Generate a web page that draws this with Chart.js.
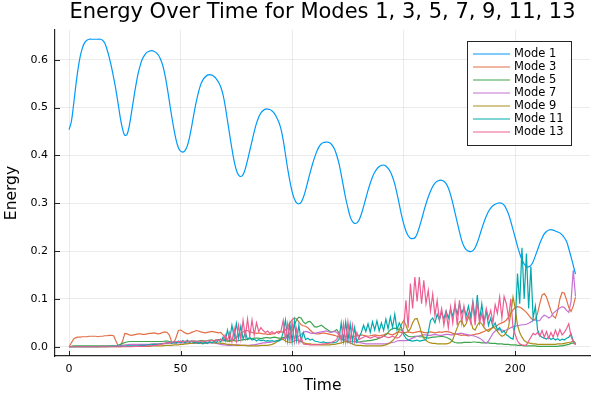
<!DOCTYPE html>
<html>
<head>
<meta charset="utf-8">
<script src="https://cdn.jsdelivr.net/npm/chart.js@4/dist/chart.umd.min.js"></script>
<style>
html,body{margin:0;padding:0;background:#fff;}
canvas{display:block;}
</style>
</head>
<body>
<canvas id="c" width="600" height="400"></canvas>
<script>
const titleText = "Energy Over Time for Modes 1, 3, 5, 7, 9, 11, 13";
const seriesLabels = ["Mode 1","Mode 3","Mode 5","Mode 7","Mode 9","Mode 11","Mode 13"];
const seriesColors = ["#009AFA","#E36F47","#3EA44E","#C371D2","#AC8E18","#00A9AD","#ED5E93"];
const xTicks = [0,50,100,150,200];
const yTicks = [0.0,0.1,0.2,0.3,0.4,0.5,0.6];

const mode1 = [
0.454,0.47,0.505,0.545,0.58,0.607,0.625,0.636,0.641,0.643,
0.643,0.643,0.643,0.643,0.643,0.641,0.635,0.622,0.605,0.585,
0.562,0.537,0.508,0.478,0.455,0.442,0.444,0.462,0.49,0.52,
0.548,0.572,0.59,0.603,0.611,0.616,0.618,0.619,0.618,0.615,
0.61,0.601,0.588,0.568,0.542,0.512,0.482,0.455,0.432,0.416,
0.409,0.407,0.41,0.42,0.438,0.462,0.488,0.512,0.532,0.548,
0.558,0.564,0.568,0.569,0.568,0.565,0.56,0.553,0.543,0.527,
0.503,0.473,0.443,0.414,0.388,0.369,0.359,0.356,0.36,0.372,
0.39,0.41,0.43,0.45,0.467,0.48,0.489,0.494,0.497,0.497,
0.496,0.493,0.488,0.48,0.47,0.455,0.432,0.402,0.372,0.346,
0.324,0.309,0.301,0.299,0.302,0.312,0.327,0.345,0.363,0.38,
0.395,0.408,0.418,0.424,0.427,0.428,0.428,0.426,0.421,0.413,
0.4,0.383,0.36,0.335,0.31,0.29,0.272,0.262,0.258,0.259,
0.265,0.277,0.293,0.31,0.327,0.342,0.355,0.365,0.372,0.377,
0.379,0.38,0.378,0.373,0.366,0.355,0.34,0.32,0.298,0.276,
0.257,0.242,0.232,0.227,0.226,0.228,0.236,0.25,0.266,0.283,
0.299,0.313,0.325,0.335,0.342,0.346,0.348,0.348,0.346,0.341,
0.332,0.318,0.3,0.28,0.26,0.24,0.222,0.21,0.203,0.2,
0.199,0.201,0.207,0.218,0.232,0.247,0.261,0.273,0.283,0.29,
0.295,0.298,0.3,0.301,0.3,0.296,0.288,0.277,0.262,0.245,
0.228,0.21,0.195,0.182,0.173,0.168,0.167,0.17,0.178,0.19,
0.203,0.216,0.227,0.236,0.241,0.244,0.245,0.244,0.242,0.24,
0.238,0.234,0.228,0.22,0.205,0.188,0.17,0.152
];
const mode3 = [
0,0.008,0.016,0.019,0.02,0.02,0.021,0.021,0.021,0.022,
0.022,0.022,0.022,0.021,0.022,0.022,0.023,0.023,0.024,0.024,
0.023,0.012,0.002,0.001,0.012,0.028,0.027,0.025,0.024,0.025,
0.026,0.027,0.027,0.026,0.026,0.027,0.028,0.028,0.029,0.028,
0.027,0.028,0.03,0.031,0.03,0.024,0.01,0.008,0.02,0.034,
0.035,0.032,0.029,0.027,0.028,0.03,0.032,0.034,0.033,0.031,
0.03,0.029,0.03,0.031,0.032,0.031,0.03,0.029,0.03,0.025,
0.018,0.012,0.011,0.013,0.016,0.02,0.024,0.028,0.031,0.034,
0.034,0.032,0.03,0.029,0.028,0.029,0.028,0.027,0.027,0.026,
0.026,0.027,0.028,0.03,0.032,0.031,0.03,0.035,0.042,0.05,
0.056,0.06,0.058,0.052,0.046,0.044,0.043,0.04,0.035,0.031,
0.028,0.027,0.027,0.028,0.029,0.028,0.027,0.026,0.025,0.024,
0.022,0.021,0.022,0.023,0.022,0.021,0.02,0.021,0.022,0.023,
0.024,0.025,0.024,0.023,0.022,0.023,0.024,0.025,0.024,0.023,
0.024,0.025,0.027,0.028,0.026,0.025,0.027,0.03,0.031,0.03,
0.029,0.03,0.031,0.03,0.029,0.03,0.031,0.032,0.031,0.03,
0.029,0.03,0.031,0.03,0.029,0.03,0.031,0.03,0.031,0.032,
0.031,0.03,0.028,0.027,0.026,0.025,0.024,0.025,0.024,0.023,
0.024,0.025,0.026,0.027,0.028,0.03,0.032,0.034,0.036,0.038,
0.04,0.042,0.045,0.048,0.05,0.052,0.056,0.062,0.07,0.077,
0.082,0.084,0.083,0.08,0.076,0.072,0.066,0.06,0.056,0.058,
0.07,0.09,0.108,0.111,0.104,0.09,0.075,0.064,0.06,0.075,
0.1,0.114,0.112,0.098,0.082,0.074,0.085,0.104
];
const mode5 = [
0,0.001,0.002,0.002,0.002,0.002,0.002,0.002,0.002,0.002,
0.002,0.002,0.002,0.002,0.002,0.002,0.002,0.002,0.002,0.002,
0.002,0.002,0.003,0.005,0.007,0.009,0.01,0.011,0.011,0.011,
0.011,0.011,0.011,0.011,0.011,0.011,0.011,0.011,0.011,0.011,
0.011,0.011,0.011,0.012,0.012,0.011,0.009,0.008,0.008,0.009,
0.01,0.01,0.009,0.01,0.011,0.012,0.012,0.011,0.012,0.013,
0.013,0.012,0.013,0.014,0.014,0.013,0.014,0.015,0.015,0.014,
0.013,0.012,0.013,0.014,0.013,0.012,0.013,0.014,0.015,0.015,
0.016,0.017,0.017,0.018,0.018,0.018,0.017,0.018,0.019,0.019,
0.018,0.019,0.02,0.019,0.018,0.018,0.019,0.02,0.024,0.028,
0.034,0.045,0.057,0.062,0.06,0.052,0.048,0.052,0.053,0.048,
0.042,0.041,0.043,0.045,0.042,0.038,0.035,0.032,0.031,0.033,
0.036,0.028,0.018,0.013,0.011,0.01,0.01,0.011,0.011,0.01,
0.01,0.011,0.012,0.012,0.013,0.013,0.014,0.015,0.016,0.018,
0.02,0.022,0.025,0.03,0.035,0.038,0.039,0.038,0.036,0.035,
0.03,0.025,0.022,0.021,0.021,0.022,0.022,0.021,0.021,0.02,
0.019,0.018,0.019,0.02,0.02,0.021,0.021,0.022,0.021,0.02,
0.018,0.015,0.011,0.009,0.008,0.008,0.008,0.009,0.009,0.009,
0.009,0.01,0.01,0.009,0.009,0.008,0.008,0.008,0.008,0.007,
0.007,0.007,0.006,0.006,0.006,0.005,0.005,0.005,0.004,0.004,
0.004,0.003,0.003,0.003,0.002,0.002,0.002,0.002,0.002,0.002,
0.001,0.001,0.001,0.001,0.001,0.001,0.001,0.001,0.001,0.001,
0.002,0.002,0.003,0.004,0.005,0.007,0.008,0.006
];
const mode7 = [
0,0,0,0,0,0,0,0,0,0,
0,0,0,0,0.001,0.001,0.001,0.001,0.001,0.001,
0.001,0.002,0.002,0.002,0.003,0.004,0.004,0.005,0.005,0.005,
0.005,0.005,0.005,0.005,0.005,0.005,0.005,0.006,0.006,0.006,
0.006,0.006,0.007,0.007,0.007,0.007,0.008,0.008,0.008,0.008,
0.008,0.008,0.008,0.008,0.007,0.007,0.007,0.007,0.007,0.007,
0.007,0.007,0.008,0.008,0.008,0.008,0.007,0.006,0.005,0.004,
0.004,0.003,0.003,0.003,0.004,0.004,0.004,0.003,0.003,0.003,
0.003,0.003,0.004,0.004,0.005,0.006,0.007,0.008,0.008,0.009,
0.009,0.01,0.011,0.012,0.014,0.015,0.017,0.018,0.02,0.021,
0.022,0.021,0.02,0.022,0.026,0.03,0.032,0.031,0.029,0.028,
0.028,0.029,0.03,0.031,0.032,0.033,0.032,0.03,0.031,0.032,
0.03,0.026,0.02,0.016,0.014,0.012,0.011,0.011,0.01,0.01,
0.009,0.008,0.007,0.006,0.006,0.006,0.006,0.006,0.006,0.006,
0.006,0.006,0.006,0.007,0.008,0.009,0.01,0.012,0.013,0.013,
0.013,0.013,0.014,0.016,0.018,0.02,0.022,0.023,0.024,0.025,
0.025,0.024,0.024,0.025,0.026,0.025,0.024,0.024,0.025,0.026,
0.026,0.025,0.025,0.026,0.027,0.028,0.028,0.027,0.026,0.025,
0.024,0.023,0.022,0.02,0.018,0.015,0.01,0.008,0.012,0.02,
0.028,0.033,0.035,0.036,0.035,0.034,0.035,0.037,0.04,0.042,
0.043,0.044,0.045,0.046,0.046,0.047,0.049,0.052,0.055,0.056,
0.054,0.055,0.062,0.066,0.064,0.06,0.063,0.07,0.074,0.078,
0.081,0.084,0.082,0.076,0.072,0.095,0.16,0.105
];
const mode9 = [
0,0,0,0,0,0,0,0,0,0,
0,0,0,0,0,0,0,0,0,0,
0,0,0,0,0.001,0.001,0.001,0.001,0.001,0.001,
0.001,0.001,0.001,0.001,0.001,0.001,0.001,0.002,0.002,0.002,
0.002,0.002,0.002,0.003,0.003,0.003,0.003,0.004,0.004,0.004,
0.005,0.005,0.006,0.006,0.007,0.007,0.008,0.008,0.008,0.008,
0.008,0.008,0.008,0.009,0.009,0.008,0.008,0.008,0.007,0.007,
0.006,0.005,0.005,0.004,0.004,0.003,0.003,0.003,0.003,0.003,
0.002,0.002,0.002,0.002,0.002,0.002,0.003,0.003,0.003,0.003,
0.004,0.005,0.007,0.01,0.014,0.016,0.015,0.012,0.01,0.009,
0.01,0.012,0.014,0.013,0.011,0.009,0.007,0.006,0.006,0.005,
0.005,0.005,0.004,0.004,0.004,0.004,0.004,0.004,0.005,0.005,
0.006,0.007,0.008,0.01,0.011,0.01,0.008,0.006,0.004,0.003,
0.003,0.003,0.002,0.002,0.002,0.002,0.002,0.002,0.002,0.002,
0.002,0.003,0.004,0.006,0.009,0.013,0.018,0.025,0.035,0.047,
0.055,0.045,0.032,0.038,0.05,0.058,0.059,0.045,0.028,0.018,
0.013,0.01,0.008,0.007,0.007,0.006,0.006,0.006,0.006,0.006,
0.007,0.009,0.015,0.028,0.04,0.052,0.055,0.042,0.048,0.062,
0.055,0.038,0.035,0.045,0.052,0.048,0.04,0.035,0.032,0.036,
0.042,0.038,0.032,0.026,0.022,0.024,0.03,0.042,0.07,0.104,
0.08,0.045,0.03,0.02,0.013,0.01,0.008,0.007,0.006,0.006,
0.005,0.005,0.005,0.005,0.005,0.005,0.005,0.005,0.005,0.006,
0.006,0.006,0.007,0.008,0.009,0.01,0.012,0.008
];
const mode11 = [
0,0,0,0,0,0,0,0,0,0,
0,0,0,0,0,0,0,0,0.001,0.001,
0.001,0.001,0.001,0.001,0.001,0.001,0.002,0.002,0.002,0.002,
0.002,0.002,0.003,0.003,0.003,0.004,0.004,0.004,0.005,0.005,
0.005,0.006,0.006,0.007,0.008,0.01,0.007,0.011,0.008,0.012,
0.009,0.013,0.008,0.014,0.009,0.012,0.008,0.011,0.007,0.01,
0.006,0.01,0.007,0.011,0.008,0.012,0.009,0.014,0.01,0.02,
0.012,0.035,0.015,0.045,0.02,0.049,0.018,0.043,0.016,0.03,
0.015,0.02,0.014,0.016,0.012,0.015,0.013,0.014,0.012,0.013,
0.012,0.013,0.011,0.013,0.012,0.015,0.03,0.056,0.012,0.048,
0.01,0.054,0.013,0.045,0.012,0.03,0.015,0.018,0.014,0.016,
0.012,0.011,0.01,0.009,0.01,0.009,0.008,0.009,0.008,0.009,
0.01,0.015,0.05,0.012,0.052,0.013,0.048,0.012,0.04,0.01,
0.02,0.03,0.045,0.032,0.048,0.03,0.052,0.035,0.054,0.033,
0.05,0.034,0.058,0.038,0.062,0.04,0.068,0.035,0.05,0.04,
0.025,0.018,0.014,0.013,0.012,0.013,0.014,0.012,0.013,0.014,
0.015,0.03,0.055,0.06,0.05,0.068,0.056,0.072,0.058,0.075,
0.06,0.078,0.064,0.085,0.068,0.09,0.07,0.082,0.065,0.085,
0.062,0.095,0.06,0.108,0.055,0.09,0.05,0.075,0.045,0.06,
0.042,0.05,0.035,0.04,0.03,0.033,0.025,0.022,0.018,0.016,
0.05,0.153,0.09,0.207,0.1,0.195,0.08,0.168,0.06,0.085,
0.035,0.024,0.02,0.018,0.016,0.02,0.015,0.018,0.014,0.017,
0.013,0.016,0.014,0.018,0.02,0.027,0.012,0.005
];
const mode13 = [
0,0,0,0,0,0,0,0,0,0,
0,0,0,0,0,0,0,0,0,0,
0,0,0,0,0,0,0,0,0,0.001,
0.001,0.001,0.001,0.001,0.001,0.002,0.002,0.002,0.003,0.003,
0.004,0.005,0.006,0.007,0.008,0.009,0.01,0.01,0.011,0.011,
0.012,0.011,0.012,0.011,0.012,0.011,0.012,0.012,0.011,0.012,
0.012,0.011,0.013,0.012,0.014,0.012,0.015,0.013,0.016,0.012,
0.025,0.012,0.03,0.01,0.038,0.012,0.045,0.015,0.055,0.02,
0.058,0.022,0.056,0.025,0.05,0.032,0.04,0.034,0.03,0.033,
0.028,0.032,0.027,0.031,0.028,0.033,0.055,0.015,0.048,0.012,
0.052,0.01,0.038,0.008,0.02,0.006,0.005,0.005,0.004,0.004,
0.004,0.004,0.005,0.005,0.006,0.006,0.007,0.008,0.01,0.012,
0.015,0.03,0.012,0.048,0.01,0.052,0.012,0.045,0.01,0.03,
0.015,0.018,0.02,0.022,0.02,0.018,0.02,0.022,0.02,0.018,
0.02,0.022,0.021,0.019,0.02,0.022,0.02,0.018,0.02,0.025,
0.04,0.097,0.04,0.132,0.08,0.146,0.095,0.146,0.09,0.139,
0.09,0.118,0.075,0.11,0.065,0.097,0.055,0.08,0.045,0.072,
0.04,0.083,0.05,0.092,0.045,0.097,0.05,0.085,0.055,0.07,
0.05,0.09,0.045,0.095,0.05,0.07,0.045,0.08,0.06,0.076,
0.05,0.088,0.07,0.104,0.06,0.105,0.09,0.06,0.1,0.04,
0.025,0.012,0.006,0.004,0.003,0.004,0.012,0.02,0.028,0.025,
0.03,0.022,0.034,0.02,0.032,0.018,0.03,0.02,0.035,0.022,
0.036,0.025,0.03,0.038,0.048,0.022,0.01,0.004
];

const timeStep = 1;
const times = mode1.map((_, i) => i * timeStep);
const allSeries = [mode1, mode3, mode5, mode7, mode9, mode11, mode13];

const FONT = "'DejaVu Sans', 'Liberation Sans', sans-serif";
const AXIS_COLOR = "rgba(0,0,0,0.85)";

const insideTicks = {
  id: 'insideTicks',
  afterDraw(chart) {
    const ctx = chart.ctx, a = chart.chartArea;
    const xs = chart.scales.x, ys = chart.scales.y;
    ctx.save();
    ctx.strokeStyle = AXIS_COLOR;
    ctx.lineWidth = 1;
    ctx.beginPath();
    xTicks.forEach(v => { const p = Math.round(xs.getPixelForValue(v)) + 0.5; ctx.moveTo(p, a.bottom); ctx.lineTo(p, a.bottom - 5); });
    yTicks.forEach(v => { const p = Math.round(ys.getPixelForValue(v)) + 0.5; ctx.moveTo(a.left, p); ctx.lineTo(a.left + 5, p); });
    ctx.stroke();
    ctx.restore();
  }
};

const boxLegend = {
  id: 'boxLegend',
  afterDraw(chart) {
    const ctx = chart.ctx, a = chart.chartArea;
    const w = 104, rowH = 13, h = 104;
    const x0 = a.right - 19 - w, y0 = a.top + 11;
    ctx.save();
    ctx.fillStyle = '#fff';
    ctx.fillRect(x0, y0, w, h);
    ctx.strokeStyle = 'rgba(0,0,0,0.85)';
    ctx.lineWidth = 1;
    ctx.strokeRect(Math.round(x0) + 0.5, Math.round(y0) + 0.5, w, h);
    ctx.font = "11.5px " + FONT;
    ctx.textBaseline = 'middle';
    ctx.textAlign = 'left';
    seriesLabels.forEach((lab, i) => {
      const yy = y0 + 13 + i * rowH;
      ctx.strokeStyle = seriesColors[i];
      ctx.lineWidth = 1.2;
      ctx.beginPath();
      ctx.moveTo(x0 + 6, yy); ctx.lineTo(x0 + 43, yy);
      ctx.stroke();
      ctx.fillStyle = '#000';
      ctx.fillText(lab, x0 + 47, yy + 0.5);
    });
    ctx.restore();
  }
};

new Chart(document.getElementById('c'), {
  type: 'line',
  data: {
    datasets: allSeries.map((s, i) => ({
      label: seriesLabels[i],
      data: s.map((v, j) => ({ x: times[j], y: v })),
      borderColor: seriesColors[i],
      backgroundColor: seriesColors[i],
      borderWidth: 1.2,
      pointRadius: 0,
      tension: i === 0 ? 0.3 : 0,
      fill: false,
      order: 6 - i
    }))
  },
  options: {
    responsive: false,
    animation: false,
    events: [],
    layout: { padding: { left: 0, right: 10, top: 0, bottom: 0 } },
    plugins: {
      legend: { display: false },
      tooltip: { enabled: false },
      title: {
        display: true,
        text: titleText,
        fullSize: false,
        color: '#000',
        font: { family: FONT, size: 21, weight: 'normal' },
        padding: { top: 0, bottom: 4.8 }
      }
    },
    scales: {
      x: {
        type: 'linear',
        min: -6.3,
        max: 233.5,
        afterFit(scale) { scale.height = 44; },
        afterBuildTicks(scale) { scale.ticks = xTicks.map(v => ({ value: v })); },
        ticks: {
          includeBounds: false,
          color: '#000',
          font: { family: FONT, size: 11 },
          padding: 7,
          maxRotation: 0,
          callback: v => String(v)
        },
        grid: { color: 'rgba(0,0,0,0.08)', lineWidth: 1, drawTicks: false },
        border: { color: AXIS_COLOR, width: 1.2 },
        title: {
          display: true, text: 'Time', color: '#000',
          font: { family: FONT, size: 15.5 },
          padding: { top: 0, bottom: 5 }
        }
      },
      y: {
        type: 'linear',
        min: -0.0193,
        max: 0.6623,
        afterFit(scale) { scale.width = 55; },
        afterBuildTicks(scale) { scale.ticks = yTicks.map(v => ({ value: v })); },
        ticks: {
          includeBounds: false,
          color: '#000',
          font: { family: FONT, size: 11 },
          padding: 7,
          callback: v => Number(v).toFixed(1)
        },
        grid: { color: 'rgba(0,0,0,0.08)', lineWidth: 1, drawTicks: false },
        border: { color: AXIS_COLOR, width: 1.2 },
        title: {
          display: true, text: 'Energy', color: '#000',
          font: { family: FONT, size: 15.5 },
          padding: { top: 3, bottom: 0 }
        }
      }
    }
  },
  plugins: [insideTicks, boxLegend]
});
</script>
</body>
</html>
